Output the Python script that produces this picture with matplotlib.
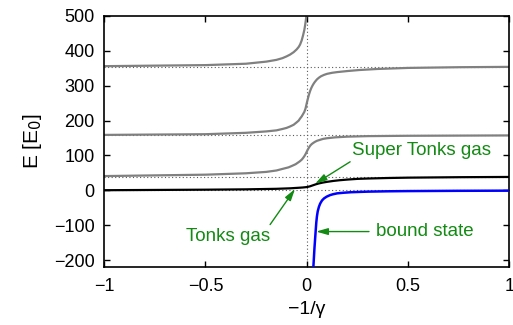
import matplotlib
matplotlib.use("Agg")
import matplotlib.pyplot as plt

plt.rcParams['font.family'] = ['Liberation Sans', 'DejaVu Sans']

# energy levels, x = -1/gamma, y = E [E0]
x_ground = [-1, -0.5, -0.3, -0.15, -0.08, -0.04, -0.02, 0, 0.015, 0.03, 0.045, 0.06, 0.08,
            0.1, 0.13, 0.16, 0.2, 0.25, 0.3, 0.4, 0.5, 0.75, 1]
e_ground = [0.5, 2, 3, 4.5, 6, 7.5, 8.3, 9.5, 11.5, 14.5, 17.5, 20, 22.5,
            24.5, 27, 29, 31, 33, 34, 35.5, 36.5, 37.8, 38.5]

x_lvl1 = [-1, -0.5, -0.3, -0.2, -0.15, -0.117, -0.09, -0.07, -0.055, -0.045, -0.035, -0.025,
          -0.018, -0.012, -0.006, 0, 0.006, 0.012, 0.018, 0.025, 0.032, 0.04, 0.05, 0.066,
          0.08, 0.1, 0.14, 0.2, 0.3, 0.5, 0.75, 1]
e_lvl1 = [41, 45, 49, 53, 57, 62, 66, 71, 75, 79, 83, 88,
          93, 98, 104, 111, 118, 124, 129, 133, 136, 139, 142, 145,
          147.5, 149.5, 152, 154, 155.5, 156.5, 157, 157.5]

x_lvl2 = [-1, -0.5, -0.3, -0.2, -0.15, -0.12, -0.1, -0.083, -0.065, -0.05, -0.04, -0.033,
          -0.025, -0.018, -0.012, -0.006, 0, 0.005, 0.01, 0.016, 0.022, 0.028, 0.034, 0.04,
          0.05, 0.06, 0.07, 0.085, 0.1, 0.125, 0.15, 0.2, 0.26, 0.35, 0.5, 0.75, 1]
e_lvl2 = [159, 161, 165, 169, 172, 176, 179, 183, 188, 195, 200, 206,
          212, 219, 225, 235, 250, 262, 273, 284, 293, 300, 306, 311,
          318, 323, 327, 331, 334, 337, 339, 342, 345, 348, 351, 353, 354]

x_lvl3 = [-1, -0.5, -0.3, -0.2, -0.15, -0.12, -0.1, -0.083, -0.065, -0.05, -0.04, -0.033,
          -0.025, -0.018, -0.012, -0.008, -0.005, -0.002, 0.001]
e_lvl3 = [356, 359, 363, 369, 374, 379, 384, 389, 396, 404, 411, 418,
          430, 445, 460, 474, 486, 500, 520]

x_bound = [0.032, 0.035, 0.038, 0.041, 0.044, 0.047, 0.05, 0.054, 0.06, 0.066, 0.075, 0.085,
           0.098, 0.115, 0.13, 0.15, 0.18, 0.22, 0.3, 0.4, 0.5, 0.75, 1]
e_bound = [-225, -195, -165, -140, -115, -92, -75, -60, -47, -38, -29, -23,
           -18, -13.5, -11, -8.5, -6.8, -5.2, -3.6, -2.6, -2, -1.2, -0.8]

# asymptotic levels (dotted)
asymptotes = [0, 39.5, 158, 355]

green = '#138a13'

fig = plt.figure(figsize=(5.13, 3.25), dpi=100)
ax = fig.add_axes([0.203, 0.178, 0.790, 0.773])

dots = (0, (1, 2.2))
for e in asymptotes:
    ax.axhline(e, color='0.35', lw=0.8, ls=dots, zorder=1)
ax.axvline(0, color='0.35', lw=0.8, ls=dots, zorder=1)

for xs, es in [(x_lvl1, e_lvl1), (x_lvl2, e_lvl2), (x_lvl3, e_lvl3)]:
    ax.plot(xs, es, color='0.5', lw=1.6, zorder=2)
ax.plot(x_ground, e_ground, color='k', lw=1.6, zorder=3)
ax.plot(x_bound, e_bound, color='#0000ff', lw=1.8, zorder=3)

arrow = dict(arrowstyle='-|>,head_length=0.7,head_width=0.2', color=green, lw=1,
             shrinkA=0, shrinkB=0)
ax.annotate('', xy=(0.041, 19), xytext=(0.214, 82), arrowprops=arrow)
ax.text(0.567, 114, 'Super Tonks gas', color=green, fontsize=13.5, ha='center', va='center')
ax.annotate('', xy=(-0.058, 4), xytext=(-0.181, -98), arrowprops=arrow)
ax.text(-0.386, -131, 'Tonks gas', color=green, fontsize=13.5, ha='center', va='center')
ax.annotate('', xy=(0.046, -118), xytext=(0.307, -118), arrowprops=arrow)
ax.text(0.581, -117, 'bound state', color=green, fontsize=13.5, ha='center', va='center')

ax.set_xlim(-1, 1)
ax.set_ylim(-220, 500)
ax.set_xticks([-1, -0.5, 0, 0.5, 1])
ax.set_xticklabels(['\u22121', '\u22120.5', '0', '0.5', '1'])
ax.set_yticks(range(-200, 501, 100))
ax.set_yticklabels([str(v).replace('-', '\u2212') for v in range(-200, 501, 100)])
ax.tick_params(direction='in', top=True, right=True, length=4, width=1, labelsize=13)
ax.tick_params(axis='x', pad=8)
ax.tick_params(axis='y', pad=7)
for s in ax.spines.values():
    s.set_linewidth(1.2)

ax.set_xlabel('\u22121/\u03b3', fontsize=14, labelpad=4)
ax.set_ylabel('E [E$_0$]', fontsize=15, labelpad=7)

fig.savefig('out.png', dpi=100)
